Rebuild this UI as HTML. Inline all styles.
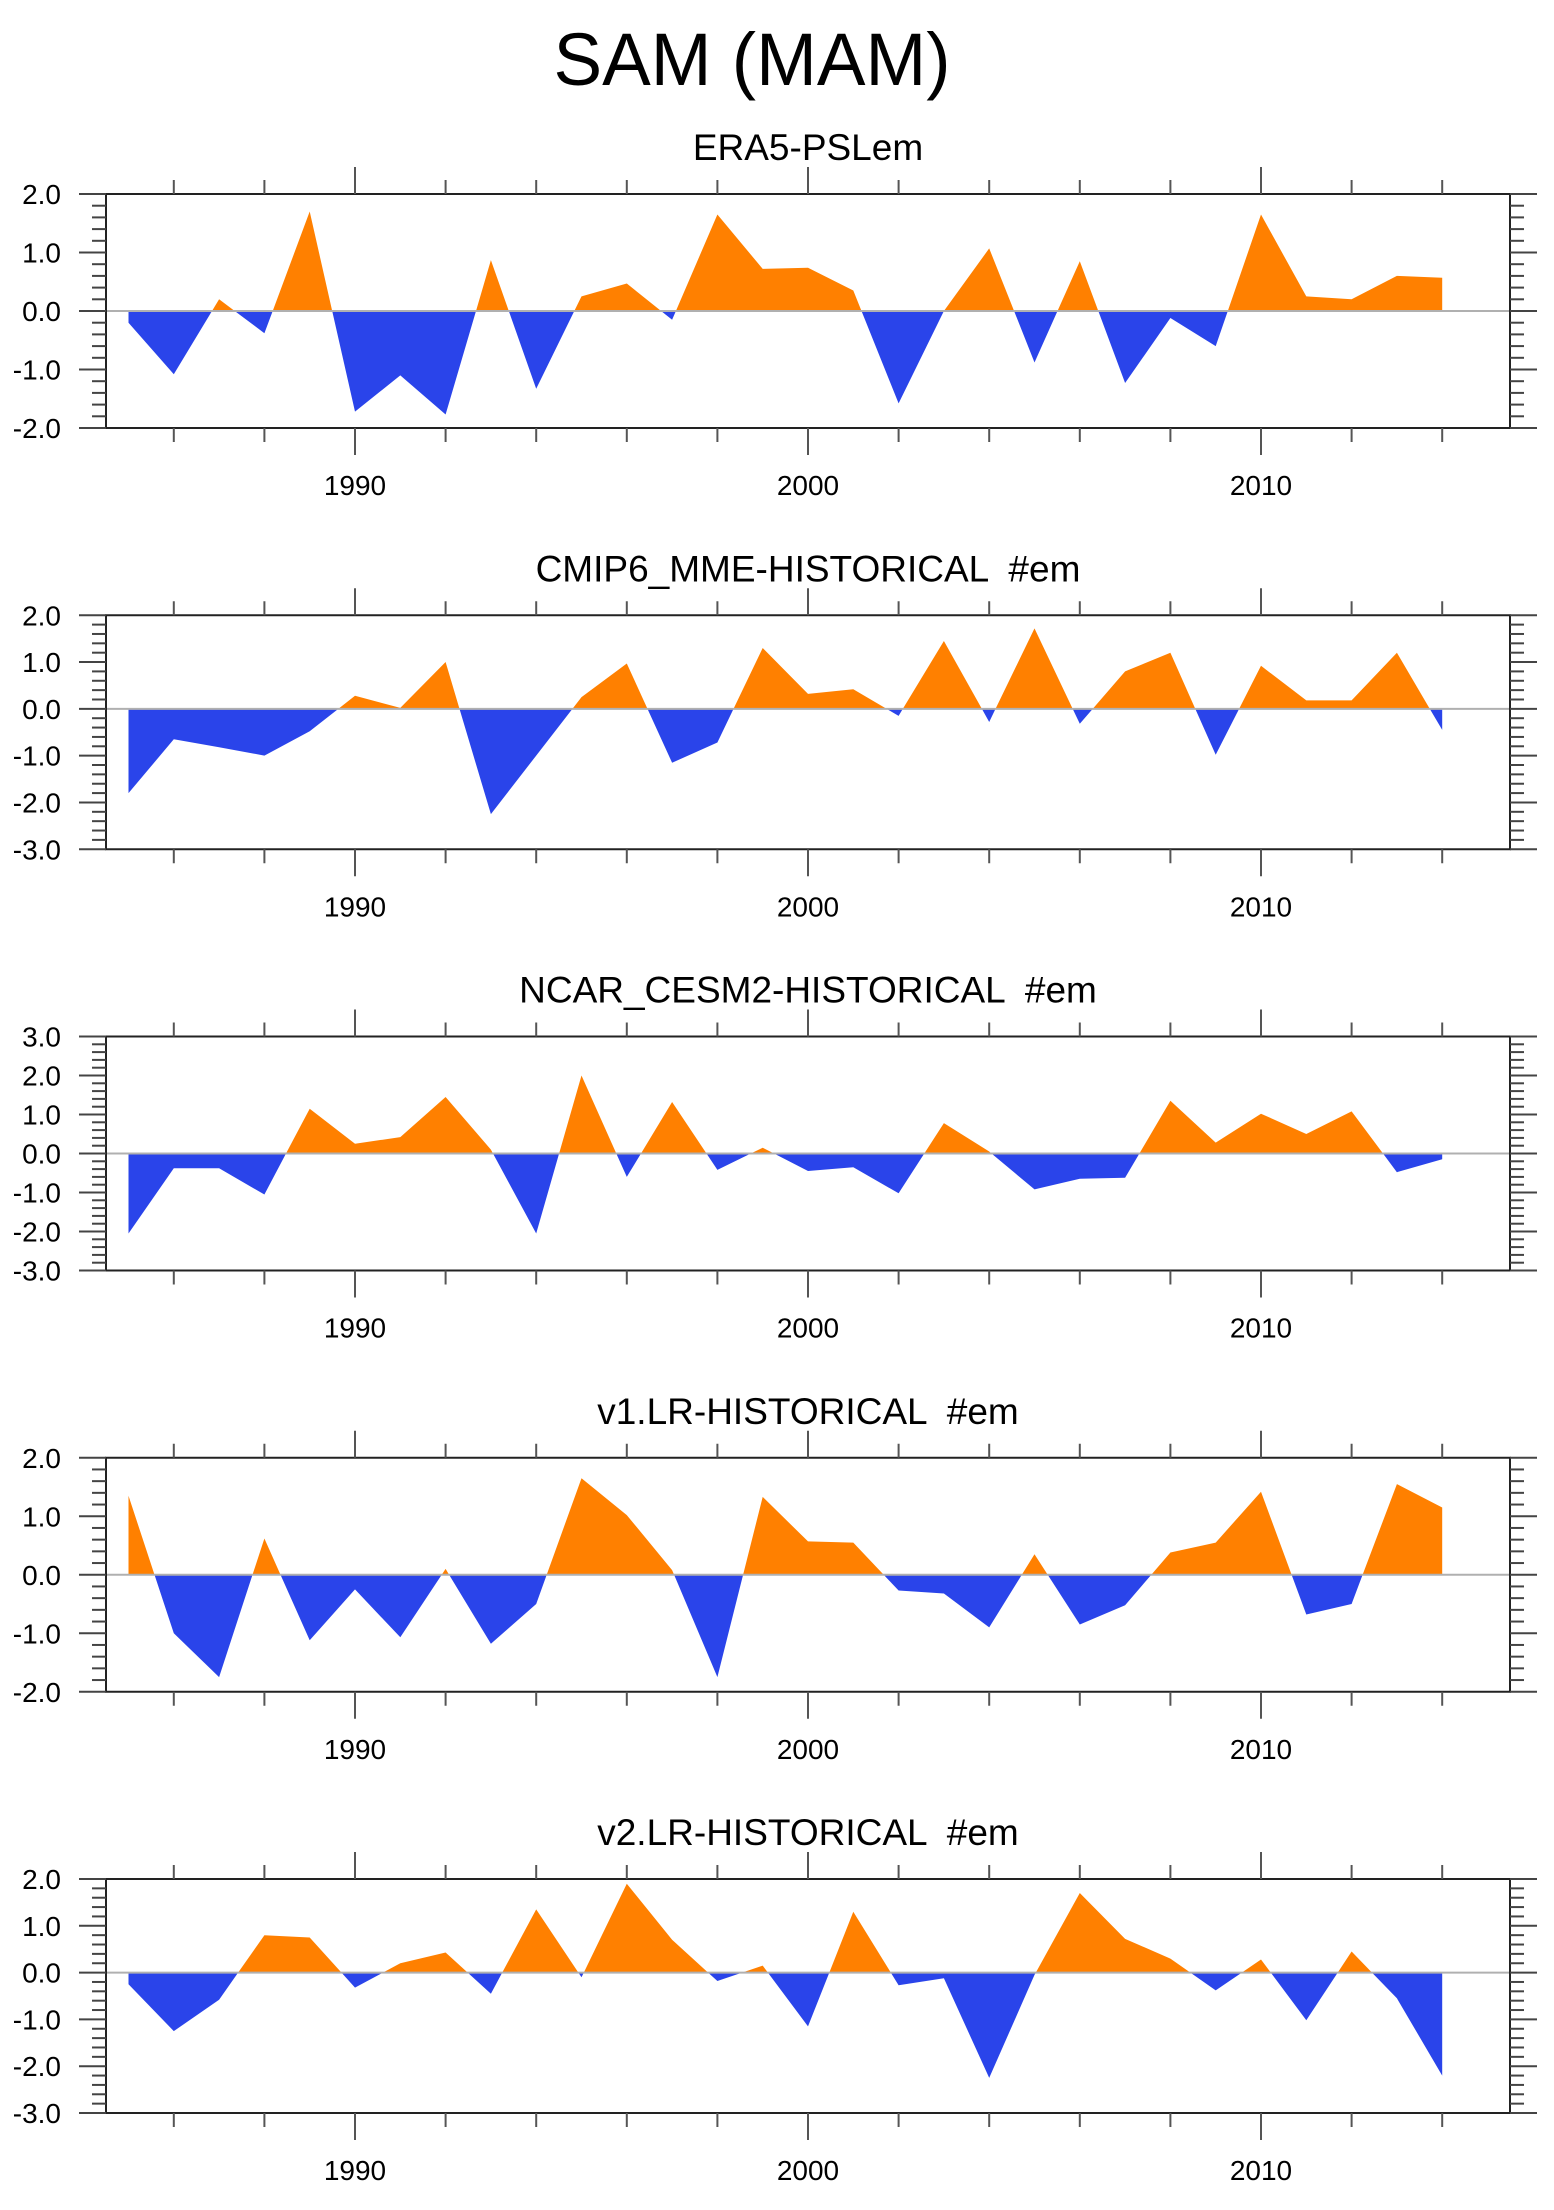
<!DOCTYPE html>
<html><head><meta charset="utf-8"><style>
html,body{margin:0;padding:0;background:#fff;}
svg{display:block;font-family:"Liberation Sans",sans-serif;}
text{white-space:pre;}
</style></head><body>
<svg id="c" width="1554" height="2210" viewBox="0 0 1554 2210" xmlns="http://www.w3.org/2000/svg">
<text x="752" y="85" font-size="74" text-anchor="middle" textLength="397" lengthAdjust="spacingAndGlyphs">SAM (MAM)</text>
</svg>
<script>
const years = [1985,1986,1987,1988,1989,1990,1991,1992,1993,1994,1995,1996,1997,1998,1999,2000,2001,2002,2003,2004,2005,2006,2007,2008,2009,2010,2011,2012,2013,2014];
const titles = ["ERA5-PSLem","CMIP6_MME-HISTORICAL  #em","NCAR_CESM2-HISTORICAL  #em","v1.LR-HISTORICAL  #em","v2.LR-HISTORICAL  #em"];
const yMins = [-2,-3,-3,-2,-3];
const yMaxs = [2,2,3,2,2];
const xTickYears = [1990,2000,2010];
const era5 = [-0.2,-1.08,0.2,-0.38,1.7,-1.72,-1.1,-1.77,0.87,-1.33,0.25,0.47,-0.15,1.65,0.72,0.74,0.35,-1.58,0.0,1.07,-0.88,0.85,-1.23,-0.12,-0.6,1.65,0.25,0.2,0.6,0.57];
const cmip6 = [-1.8,-0.65,-0.82,-1.0,-0.48,0.28,0.02,1.0,-2.25,-1.0,0.25,0.97,-1.15,-0.72,1.3,0.32,0.42,-0.15,1.45,-0.28,1.72,-0.32,0.8,1.2,-0.98,0.92,0.18,0.18,1.2,-0.45];
const cesm2 = [-2.05,-0.38,-0.38,-1.05,1.15,0.25,0.42,1.45,0.1,-2.05,2.0,-0.6,1.32,-0.42,0.15,-0.45,-0.35,-1.02,0.78,0.05,-0.92,-0.65,-0.62,1.35,0.28,1.02,0.5,1.08,-0.48,-0.15];
const v1lr = [1.35,-1.0,-1.75,0.62,-1.12,-0.25,-1.07,0.1,-1.18,-0.5,1.65,1.02,0.08,-1.75,1.33,0.57,0.55,-0.27,-0.32,-0.9,0.35,-0.85,-0.52,0.38,0.55,1.42,-0.68,-0.5,1.55,1.15];
const v2lr = [-0.25,-1.25,-0.58,0.8,0.75,-0.32,0.2,0.43,-0.45,1.35,-0.1,1.9,0.7,-0.18,0.15,-1.15,1.3,-0.27,-0.12,-2.25,-0.05,1.7,0.72,0.3,-0.38,0.28,-1.02,0.45,-0.55,-2.2];
const series = [era5,cmip6,cesm2,v1lr,v2lr];

const svg = document.getElementById('c');
const NS = 'http://www.w3.org/2000/svg';
const L = 106, R = 1510, H = 234;
function mk(tag, attrs, parent){const e=document.createElementNS(NS,tag);for(const k in attrs)e.setAttribute(k,attrs[k]);(parent||svg).appendChild(e);return e;}
function xS(yr){return 355 + (yr-1990)*45.3;}

series.forEach((vals, p) => {
  const top = 194 + p*421.25, bot = top + H;
  const lo = yMins[p], hi = yMaxs[p];
  const yS = v => bot - (v-lo)/(hi-lo)*H;
  const g = mk('g', {});
  
  
  const t = mk('text', {x: 808, y: top-34, 'font-size': 37, 'text-anchor': 'middle'}, g);
  
  
  t.textContent = titles[p];
  const y0 = yS(0);
  ['pos','neg'].forEach(kind => {
    let pts = [];
    for (let i=0;i<vals.length;i++){
      const v = kind==='pos'?Math.max(vals[i],0):Math.min(vals[i],0);
      if (i>0){
        const a=vals[i-1], b=vals[i];
        if ((a>0&&b<0)||(a<0&&b>0)){
          const f=a/(a-b);
          pts.push([xS(years[i-1])+f*(xS(years[i])-xS(years[i-1])), y0]);
        }
      }
      pts.push([xS(years[i]), yS(v)]);
    }
    const d = 'M'+xS(years[0])+','+y0+' L'+pts.map(q=>q[0].toFixed(1)+','+q[1].toFixed(1)).join(' L')+' L'+xS(years[years.length-1])+','+y0+' Z';
    const path = mk('path', {d: d, fill: kind==='pos'?'#ff8000':'#2a44ea', stroke:'none'}, g);
    
    
  });
  const zl = mk('line', {x1:L, x2:R, y1:y0, y2:y0, stroke:'#b0b0b0', 'stroke-width':2}, g);
  
  
  const fr = mk('rect', {x:L, y:top, width:R-L, height:H, fill:'none', stroke:'#222', 'stroke-width':2}, g);
  
  
  for (let k = Math.round(lo*5); k <= Math.round(hi*5); k++){
    const v = k/5, y = yS(v), major = (k%5===0);
    const len = major?27:14;
    mk('line', {x1:L-len, x2:L, y1:y, y2:y, stroke:'#444', 'stroke-width':2}, g);
    mk('line', {x1:R, x2:R+len, y1:y, y2:y, stroke:'#444', 'stroke-width':2}, g);
    if (major){
      const lb = mk('text', {x:61, y:y+10, 'font-size':28, 'text-anchor':'end'}, g);
      
      
      lb.textContent = v.toFixed(1);
    }
  }
  for (let yr = 1986; yr <= 2014; yr += 2){
    const x = xS(yr), major = xTickYears.includes(yr);
    const len = major?27:14;
    mk('line', {x1:x, x2:x, y1:top-len, y2:top, stroke:'#555', 'stroke-width':2}, g);
    mk('line', {x1:x, x2:x, y1:bot, y2:bot+len, stroke:'#555', 'stroke-width':2}, g);
  }
  xTickYears.forEach(yr => {
    const lb = mk('text', {x:xS(yr), y:bot+67, 'font-size':28, 'text-anchor':'middle'}, g);
    
    
    lb.textContent = yr;
  });
});
</script>
</body></html>
